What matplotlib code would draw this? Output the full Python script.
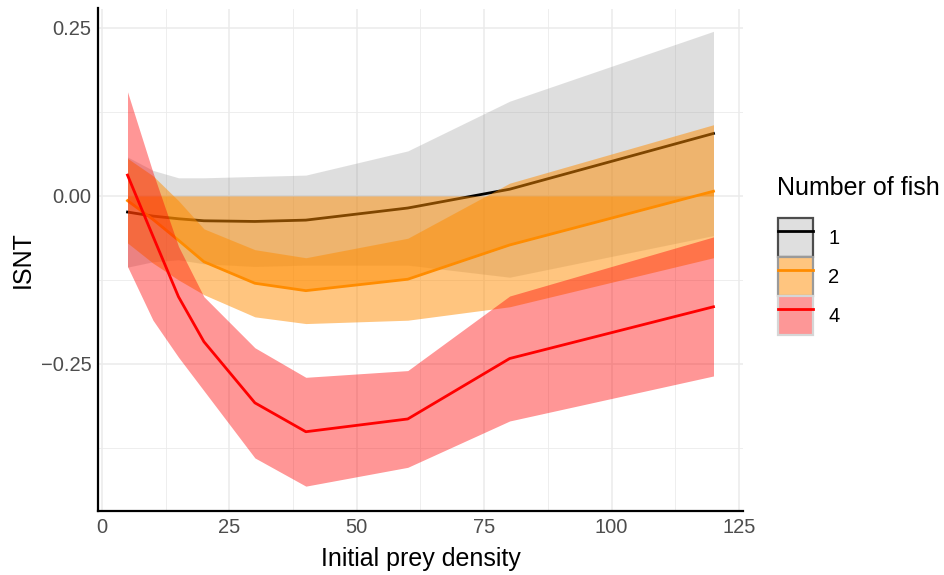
import matplotlib
matplotlib.use("Agg")
import matplotlib.pyplot as plt
from matplotlib.patches import Patch
from matplotlib.lines import Line2D
from matplotlib.ticker import FixedLocator
import numpy as np

plt.rcParams['font.family'] = ['Liberation Sans', 'DejaVu Sans']

# ---- data ----
density = [5, 10, 15, 20, 30, 40, 60, 80, 120]

fish1_mean = [-0.024, -0.030, -0.034, -0.037, -0.038, -0.036, -0.018, 0.010, 0.093]
fish1_upper = [0.058, 0.038, 0.027, 0.027, 0.029, 0.031, 0.067, 0.141, 0.245]
fish1_lower = [-0.106, -0.098, -0.095, -0.101, -0.105, -0.103, -0.103, -0.121, -0.059]

fish2_mean = [-0.007, -0.035, -0.066, -0.098, -0.130, -0.141, -0.124, -0.073, 0.007]
fish2_upper = [0.056, 0.030, -0.007, -0.049, -0.080, -0.092, -0.063, 0.019, 0.106]
fish2_lower = [-0.070, -0.100, -0.125, -0.147, -0.180, -0.190, -0.185, -0.165, -0.092]

fish4_mean = [0.031, -0.060, -0.150, -0.217, -0.308, -0.351, -0.332, -0.242, -0.165]
fish4_upper = [0.155, 0.035, -0.075, -0.150, -0.226, -0.270, -0.260, -0.149, -0.061]
fish4_lower = [-0.105, -0.185, -0.240, -0.290, -0.390, -0.432, -0.404, -0.335, -0.268]

group_labels = ["1", "2", "4"]
legend_title = "Number of fish"
x_ticks = [0, 25, 50, 75, 100, 125]
y_ticks = [-0.25, 0.00, 0.25]
y_ticklabels = ["\u22120.25", "0.00", "0.25"]

# ---- figure ----
fig = plt.figure(figsize=(9.45, 5.75), dpi=100)
ax = fig.add_axes([98.2/945, 1 - 511/575, (742.8-98.2)/945, (511-8.5)/575])

x = np.array(density)
grey_fill = '#7f7f7f'
orange = '#FF8C00'
red = '#FF0000'

ax.fill_between(x, fish1_lower, fish1_upper, color=grey_fill, alpha=0.25, lw=0, zorder=2)
ax.plot(x, fish1_mean, color='black', lw=2.0, zorder=3)

ax.fill_between(x, 0, fish2_mean, color=orange, alpha=0.5, lw=0, zorder=4)
ax.fill_between(x, fish2_lower, fish2_upper, color=orange, alpha=0.5, lw=0, zorder=4)
ax.plot(x, fish2_mean, color=orange, lw=2.0, zorder=5)

ax.fill_between(x, fish4_lower, fish4_upper, color=red, alpha=0.41, lw=0, zorder=6)
ax.plot(x, fish4_mean, color=red, lw=2.0, zorder=7)

ax.set_xlim(-0.75, 125.75)
ax.set_ylim(-0.469, 0.279)

ax.xaxis.set_major_locator(FixedLocator(x_ticks))
ax.xaxis.set_minor_locator(FixedLocator([12.5, 37.5, 62.5, 87.5, 112.5]))
ax.yaxis.set_major_locator(FixedLocator(y_ticks))
ax.yaxis.set_minor_locator(FixedLocator([-0.375, -0.125, 0.125]))
ax.set_yticklabels(y_ticklabels)

ax.grid(which='major', color='#EBEBEB', lw=1.1, zorder=0)
ax.grid(which='minor', color='#EBEBEB', lw=0.6, zorder=0)
ax.set_axisbelow(True)

for s in ['top', 'right']:
    ax.spines[s].set_visible(False)
for s in ['left', 'bottom']:
    ax.spines[s].set_color('black')
    ax.spines[s].set_linewidth(1.6)
ax.tick_params(which='both', length=0, labelsize=14.5, labelcolor='#4D4D4D', pad=5)

ax.set_xlabel("Initial prey density", fontsize=18, color='black', labelpad=7)
ax.set_ylabel("ISNT", fontsize=18, color='black', labelpad=4)

# ---- legend ----
handles = [
    (Patch(facecolor='#DFDFDF', edgecolor='#4D4D4D', lw=1.6), Line2D([0], [0], color='black', lw=2)),
    (Patch(facecolor='#FFC57F', edgecolor='#9A9A9A', lw=1.6), Line2D([0], [0], color=orange, lw=2)),
    (Patch(facecolor='#FD9797', edgecolor='#D6D6D6', lw=1.6), Line2D([0], [0], color=red, lw=2)),
]
fig.text(777/945, 1 - 188/575, legend_title, fontsize=18, ha='left', va='center')
leg = fig.legend(handles, group_labels, loc='upper left',
                 bbox_to_anchor=(778/945, 1 - 218/575), frameon=False,
                 fontsize=14.5,
                 handlelength=1.75, handleheight=2.6, labelspacing=0.0,
                 handletextpad=0.75, borderpad=0, borderaxespad=0)

fig.savefig("out.png", dpi=100)
